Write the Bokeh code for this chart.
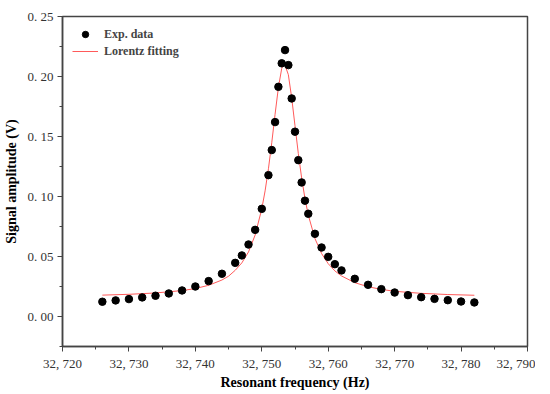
from bokeh.plotting import figure
from bokeh.models import Range1d, FixedTicker, CustomJSTickFormatter, Legend, LegendItem
from bokeh.embed import file_html
from bokeh.resources import INLINE

freq = [32726, 32728, 32730, 32732, 32734, 32736, 32738, 32740, 32742, 32744,
        32746, 32747, 32748, 32749, 32750, 32751, 32751.5, 32752, 32752.5, 32753,
        32753.5, 32754, 32754.5, 32755, 32755.5, 32756, 32756.5, 32757, 32758, 32759,
        32760, 32761, 32762, 32764, 32766, 32768, 32770, 32772, 32774, 32776,
        32778, 32780, 32782]
amp = [0.0123, 0.0134, 0.0145, 0.0159, 0.0173, 0.0192, 0.0217, 0.0250, 0.0295, 0.0356,
       0.0447, 0.0509, 0.0600, 0.0722, 0.0897, 0.1178, 0.1387, 0.1620, 0.1914, 0.2110,
       0.2220, 0.2095, 0.1817, 0.1540, 0.1303, 0.1117, 0.0965, 0.0856, 0.0689, 0.0575,
       0.0497, 0.0436, 0.0384, 0.0314, 0.0264, 0.0228, 0.0200, 0.0178, 0.0161, 0.0147,
       0.0136, 0.0125, 0.0117]

# Lorentz fitting curve
fit_freq = [32726, 32730, 32734, 32738, 32740, 32742, 32744, 32745, 32746, 32747,
            32748, 32749, 32750, 32750.5, 32751, 32751.5, 32752, 32752.5, 32753, 32753.4,
            32754, 32754.5, 32755, 32755.5, 32756, 32756.5, 32757, 32758, 32759, 32760,
            32761, 32762, 32764, 32766, 32768, 32770, 32774, 32778, 32782]
fit_amp = [0.0178, 0.0185, 0.0196, 0.0216, 0.0233, 0.0260, 0.0304, 0.0336, 0.0385, 0.0447,
           0.0538, 0.0679, 0.0897, 0.1047, 0.1231, 0.1448, 0.1685, 0.1908, 0.2067, 0.2110,
           0.2015, 0.1823, 0.1589, 0.1358, 0.1154, 0.0983, 0.0845, 0.0650, 0.0525, 0.0440,
           0.0380, 0.0338, 0.0282, 0.0248, 0.0226, 0.0210, 0.0193, 0.0183, 0.0177]

x_ticks = [32720, 32730, 32740, 32750, 32760, 32770, 32780, 32790]
x_tick_labels = ["32, 720", "32, 730", "32, 740", "32, 750", "32, 760", "32, 770", "32, 780", "32, 790"]
y_ticks = [0.0, 0.05, 0.10, 0.15, 0.20, 0.25]
y_tick_labels = ["0. 00", "0. 05", "0. 10", "0. 15", "0. 20", "0. 25"]

x_minor = [32725, 32735, 32745, 32755, 32765, 32775, 32785]
y_minor = [-0.025, 0.025, 0.075, 0.125, 0.175, 0.225]

SERIF = "'Liberation Serif', 'DejaVu Serif', serif"

p = figure(frame_width=465, frame_height=330, output_backend="svg", toolbar_location=None,
           x_range=Range1d(32720, 32790), y_range=Range1d(-0.025, 0.25),
           min_border_left=54, min_border_right=8, min_border_top=16, min_border_bottom=30)
p.grid.visible = False
p.outline_line_color = "#444444"
p.outline_line_width = 1.5
p.background_fill_color = "white"
p.border_fill_color = "white"

fmt_code = """
let best = 0; let bd = Infinity;
for (let i = 0; i < tv.length; i++) { const d = Math.abs(tv[i] - tick); if (d < bd) { bd = d; best = i; } }
return tl[best];
"""
p.xaxis.ticker = FixedTicker(ticks=x_ticks, minor_ticks=x_minor)
p.yaxis.ticker = FixedTicker(ticks=y_ticks, minor_ticks=y_minor)
p.xaxis.formatter = CustomJSTickFormatter(args=dict(tv=x_ticks, tl=x_tick_labels), code=fmt_code)
p.yaxis.formatter = CustomJSTickFormatter(args=dict(tv=y_ticks, tl=y_tick_labels), code=fmt_code)

for ax in (p.xaxis, p.yaxis):
    ax.axis_line_color = "#444444"
    ax.axis_line_width = 1.5
    ax.major_tick_line_color = "#444444"
    ax.minor_tick_line_color = "#444444"
    ax.major_tick_in = 0
    ax.major_tick_out = 5
    ax.minor_tick_in = 0
    ax.minor_tick_out = 3
    ax.major_label_text_font = SERIF
    ax.major_label_text_font_size = "13px"
    ax.major_label_text_color = "#333333"
    ax.axis_label_text_font = SERIF
    ax.axis_label_text_font_style = "bold"
    ax.axis_label_text_font_size = "14px"
    ax.axis_label_text_color = "black"

p.xaxis.axis_label = "Resonant frequency (Hz)"
p.yaxis.axis_label = "Signal amplitude (V)"
p.xaxis.major_label_standoff = 4
p.yaxis.major_label_standoff = 4
p.xaxis.axis_label_standoff = 1
p.yaxis.axis_label_standoff = 6

r_fit = p.line(fit_freq, fit_amp, line_color="#ff5a5a", line_width=1)
r_exp = p.scatter(freq, amp, size=7.5, fill_color="black", line_color="black")

legend = Legend(items=[LegendItem(label="Exp. data", renderers=[r_exp]),
                       LegendItem(label="Lorentz fitting", renderers=[r_fit])],
                location="top_left")
legend.border_line_color = None
legend.background_fill_alpha = 0
legend.label_text_font = SERIF
legend.label_text_font_style = "bold"
legend.label_text_font_size = "12px"
legend.glyph_width = 26
legend.glyph_height = 16
legend.label_height = 16
legend.label_standoff = 6
legend.spacing = 1
legend.margin = 10
legend.padding = 2
p.add_layout(legend)

open("out.html", "w").write(file_html(p, INLINE))
